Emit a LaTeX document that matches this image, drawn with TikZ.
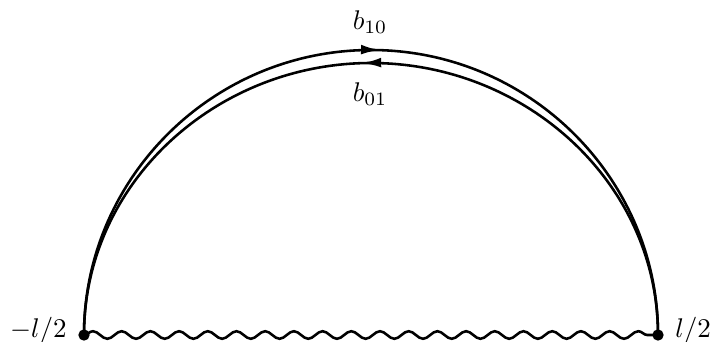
\documentclass[tikz,border=0pt]{standalone}
\usetikzlibrary{decorations.pathmorphing,decorations.markings,arrows.meta}

\begin{document}
\begin{tikzpicture}[x=0.37pt, y=0.37pt, line width=0.95pt,
    vertex/.style = {circle, fill, inner sep=0pt, minimum size=4.2pt},
    midarrow/.style = {postaction={decorate}, decoration={markings,
        mark=at position 0.51 with {\arrow{Latex[length=7pt, width=3.6pt]}}}},
    photon/.style = {decorate, decoration={snake, amplitude=1.4pt, segment length=10.62pt}}]
    \useasboundingbox (0, 0) rectangle (714, 341);
    \node[vertex] (left)  at (84, 6)  {};
    \node[vertex] (right) at (658, 6) {};
    \coordinate (outerTop) at (371, 291);
    \coordinate (innerTop) at (371, 278);
    % the two propagators
    \draw[midarrow] (left.center) .. controls +(0, 157) and +(-158, 0) .. (outerTop)
                                  .. controls +(158, 0) and +(0, 157) .. (right.center);
    \draw[midarrow] (right.center) .. controls +(0, 152) and +(155, 0) .. (innerTop)
                                   .. controls +(-155, 0) and +(0, 152) .. (left.center);
    \draw[photon] (left.center) -- (right.center);
    \node (bTen)     at (370, 319) {$b_{10}$};
    \node (bZeroOne) at (370, 247) {$b_{01}$};
    \node[left]  (minusHalf) at ([yshift=1.6pt]left.west)  {$-l/2$};
    \node[right] (plusHalf)  at ([yshift=1.6pt]right.east) {$l/2$};
  \end{tikzpicture}
\end{document}
